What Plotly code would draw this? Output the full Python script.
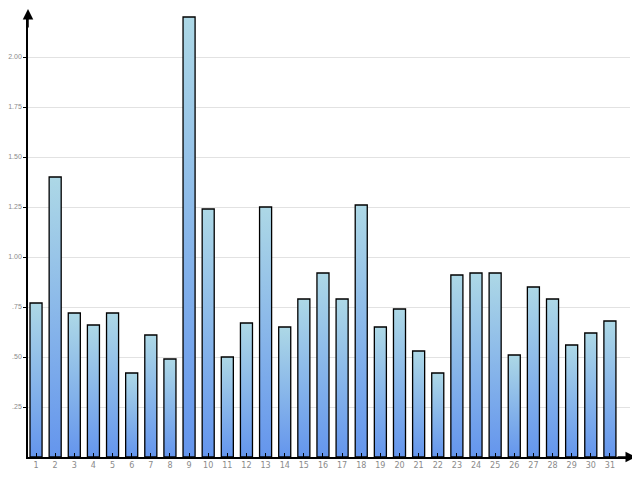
import plotly.graph_objects as go

categories = list(range(1, 32))
values = [0.77, 1.40, 0.72, 0.66, 0.72, 0.42, 0.61, 0.49, 2.20, 1.24,
          0.50, 0.67, 1.25, 0.65, 0.79, 0.92, 0.79, 1.26, 0.65, 0.74,
          0.53, 0.42, 0.91, 0.92, 0.92, 0.51, 0.85, 0.79, 0.56, 0.62, 0.68]
y_tick_vals = [0.25, 0.5, 0.75, 1.0, 1.25, 1.5, 1.75, 2.0]
y_tick_text = [".25", ".50", ".75", "1.00", "1.25", "1.50", "1.75", "2.00"]

half = 0.315
fig = go.Figure()
for c, v in zip(categories, values):
    fig.add_trace(go.Scatter(
        x=[c - half, c - half, c + half, c + half, c - half],
        y=[0, v, v, 0, 0],
        mode="lines",
        fill="toself",
        fillgradient=dict(type="vertical",
                          colorscale=[[0, "#6495ed"], [1, "#add8e6"]]),
        line=dict(color="black", width=1.3),
        hoverinfo="skip",
        showlegend=False,
        cliponaxis=False,
    ))

fig.update_layout(
    width=632, height=472,
    margin=dict(l=20, r=10, t=8, b=23, autoexpand=False),
    plot_bgcolor="white", paper_bgcolor="white",
    showlegend=False,
    xaxis=dict(range=[0.58, 32.05], tickmode="array", tickvals=categories,
               ticktext=[str(c) for c in categories], automargin=False,
               showgrid=False, zeroline=False,
               showline=True, linecolor="black", linewidth=1.5,
               ticks="inside", ticklen=4, tickcolor="black", tickwidth=1,
               tickfont=dict(family="DejaVu Sans", size=8, color="#8a8a8a")),
    yaxis=dict(range=[0, 2.205], tickmode="array", tickvals=y_tick_vals,
               ticktext=y_tick_text, automargin=False,
               showgrid=True, gridcolor="#e2e2e2", gridwidth=1, zeroline=False,
               showline=True, linecolor="black", linewidth=1.5,
               ticks="outside", ticklen=3, tickcolor="black", tickwidth=1,
               tickfont=dict(family="Liberation Sans", size=7, color="#8a8a8a")),
    annotations=[
        dict(xref="paper", yref="paper", x=0, y=1.016, ax=0, ay=20,
             text="", showarrow=True, arrowhead=2, arrowsize=1.4,
             arrowwidth=1.5, arrowcolor="black"),
        dict(xref="paper", yref="paper", x=1.01, y=0, ax=-20, ay=0,
             text="", showarrow=True, arrowhead=2, arrowsize=1.4,
             arrowwidth=1.5, arrowcolor="black"),
    ],
)

fig.write_html("out.html")
